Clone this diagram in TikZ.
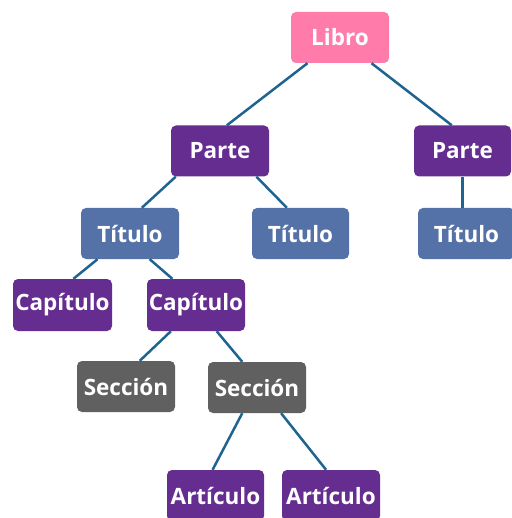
\documentclass[tikz,border=0pt]{standalone}
\usepackage{fontspec}
\setmainfont{Open Sans}
\usetikzlibrary{calc}
\definecolor{cpink}{RGB}{255,124,170}
\definecolor{cpurple}{RGB}{102,45,145}
\definecolor{cblue}{RGB}{84,113,168}
\definecolor{cgray}{RGB}{96,96,96}
\definecolor{cline}{RGB}{31,99,145}
\begin{document}
\begin{tikzpicture}[x=1pt,y=-1pt,
  box/.style={rectangle, rounded corners=5pt, inner sep=0pt, text=white,
    font=\fontsize{22.5}{25}\bfseries\selectfont, minimum height=51pt, minimum width=98pt},
  pinkbox/.style={box, fill=cpink},
  purplebox/.style={box, fill=cpurple},
  bluebox/.style={box, fill=cblue},
  graybox/.style={box, fill=cgray},
  link/.style={draw=cline, line width=2.5pt}]
\useasboundingbox (0,0) rectangle (511,518);
\node[pinkbox] (libro) at (340,37.5) {Libro};
\node[purplebox] (parteL) at (220,151) {Parte};
\node[purplebox, minimum width=97pt] (parteR) at (462.5,151) {Parte};
\node[bluebox] (tituloL) at (130,233.5) {Título};
\node[bluebox, minimum width=97pt] (tituloM) at (300.5,233.5) {Título};
\node[bluebox, minimum width=97pt] (tituloR) at (466.5,233.5) {Título};
\node[purplebox, minimum width=99pt, minimum height=52pt] (capL) at (62.5,305) {Capítulo};
\node[purplebox, minimum height=52pt] (capR) at (196,305) {Capítulo};
\node[graybox] (seccL) at (126,386.5) {Sección};
\node[graybox] (seccR) at (257,387.5) {Sección};
\node[purplebox, minimum width=97pt] (artL) at (215.5,495.5) {Artículo};
\node[purplebox] (artR) at (331,495.5) {Artículo};
% connectors
\newcommand{\lnk}[4]{\draw[link] ($(#1.south west)!#2!(#1.south east)$) -- ($(#3.north west)!#4!(#3.north east)$);}
\lnk{libro}{0.17}{parteL}{0.57}
\lnk{libro}{0.82}{parteR}{0.39}
\lnk{parteL}{0.05}{tituloL}{0.62}
\lnk{parteL}{0.87}{tituloM}{0.36}
\draw[link] (parteR.south) -- (parteR.south |- tituloR.north);
\lnk{tituloL}{0.17}{capL}{0.61}
\lnk{tituloL}{0.70}{capR}{0.26}
\lnk{capR}{0.245}{seccL}{0.64}
\lnk{capR}{0.71}{seccR}{0.35}
\lnk{seccR}{0.35}{artL}{0.47}
\lnk{seccR}{0.745}{artR}{0.45}
\end{tikzpicture}
\end{document}
